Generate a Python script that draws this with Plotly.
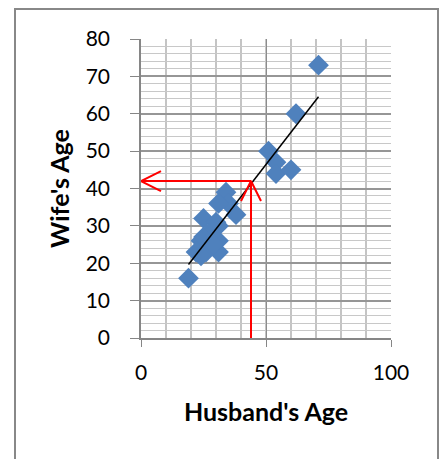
import numpy as np
import plotly.graph_objects as go

# Paired ages of married couples
husband_age = [71, 62, 51, 54, 54, 60, 34, 35, 31, 38, 25, 31, 30, 27, 31, 24, 22, 31, 26, 24, 25, 19, 29]
wife_age = [73, 60, 50, 47, 44, 45, 39, 36, 36, 33, 32, 30, 31, 28, 26, 26, 23, 23, 23, 22, 27, 16, 25]

# Reading a prediction off the chart
query_husband = 44
read_wife = 42

x_ticks = [0, 50, 100]
y_ticks = [0, 10, 20, 30, 40, 50, 60, 70, 80]

W, H = 443, 459
L, R, T, B = 141, 52, 39, 121
x_range = [0, 100]
y_range = [0, 80]
px_x = (W - L - R) / (x_range[1] - x_range[0])
px_y = (H - T - B) / (y_range[1] - y_range[0])

# Least-squares trend line over the observed husband ages
xs = np.array(husband_age, dtype=float)
ys = np.array(wife_age, dtype=float)
slope, intercept = np.polyfit(xs, ys, 1)
line_x = np.array([xs.min(), xs.max()])
line_y = slope * line_x + intercept

fig = go.Figure()

fig.add_trace(go.Scatter(
    x=husband_age, y=wife_age, mode="markers",
    marker=dict(symbol="diamond", size=16, color="#4f81bd", line=dict(width=0)),
    hoverinfo="x+y", showlegend=False,
))

fig.add_trace(go.Scatter(
    x=line_x, y=line_y, mode="lines",
    line=dict(color="black", width=1.5), showlegend=False, hoverinfo="skip",
))

# Red read-off arrows: up from the husband's age, then left to the wife's age
red = "#ff0000"
head_len, head_half = 20, 10  # pixels
fig.add_trace(go.Scatter(
    x=[query_husband, query_husband], y=[y_range[0], read_wife], mode="lines",
    line=dict(color=red, width=2), showlegend=False, hoverinfo="skip",
))
fig.add_trace(go.Scatter(
    x=[query_husband - head_half / px_x, query_husband, query_husband + head_half / px_x],
    y=[read_wife - head_len / px_y, read_wife, read_wife - head_len / px_y],
    mode="lines", line=dict(color=red, width=2), showlegend=False, hoverinfo="skip",
))
fig.add_trace(go.Scatter(
    x=[query_husband, x_range[0]], y=[read_wife, read_wife], mode="lines",
    line=dict(color=red, width=2), showlegend=False, hoverinfo="skip",
))
fig.add_trace(go.Scatter(
    x=[x_range[0] + head_len / px_x, x_range[0], x_range[0] + head_len / px_x],
    y=[read_wife + head_half / px_y, read_wife, read_wife - head_half / px_y],
    mode="lines", line=dict(color=red, width=2), showlegend=False, hoverinfo="skip",
))

tick_font = dict(family="Lato, Carlito, Calibri, sans-serif", size=21, color="black")
title_font = dict(family="Lato, Carlito, Calibri, sans-serif", size=25, color="black")

fig.update_layout(
    width=W, height=H,
    margin=dict(l=L, r=R, t=T, b=B),
    paper_bgcolor="white", plot_bgcolor="white",
    xaxis=dict(
        range=x_range, tickvals=x_ticks, ticks="outside", ticklen=7, tickcolor="#868686",
        showline=True, linecolor="#868686", linewidth=1.5,
        showgrid=True, gridcolor="#8c8c8c", gridwidth=1,
        minor=dict(dtick=10, showgrid=True, gridcolor="#c4c4c4", gridwidth=1.5),
        zeroline=False, tickfont=tick_font, ticklabelstandoff=8,
        title=dict(text="<b>Husband's Age</b>", font=title_font, standoff=21),
        fixedrange=True,
    ),
    yaxis=dict(
        range=y_range, tickvals=y_ticks, ticks="outside", ticklen=9, tickcolor="#868686",
        showline=True, linecolor="#868686", linewidth=1.5,
        showgrid=True, gridcolor="#969696", gridwidth=1.5,
        minor=dict(dtick=2, showgrid=True, gridcolor="#c8c8c8", gridwidth=1),
        zeroline=False, tickfont=tick_font, ticklabelstandoff=16,
        title=dict(text="<b>Wife's Age</b>", font=title_font, standoff=9),
        fixedrange=True,
    ),
    shapes=[dict(
        type="rect", xref="paper", yref="paper",
        x0=(15 - L) / (W - L - R), x1=(438 - L) / (W - L - R),
        y0=(H - B - 480) / (H - T - B), y1=(H - B - 9) / (H - T - B),
        line=dict(color="#888888", width=2), fillcolor="rgba(0,0,0,0)", layer="below",
    )],
)

fig.write_html("out.html")
